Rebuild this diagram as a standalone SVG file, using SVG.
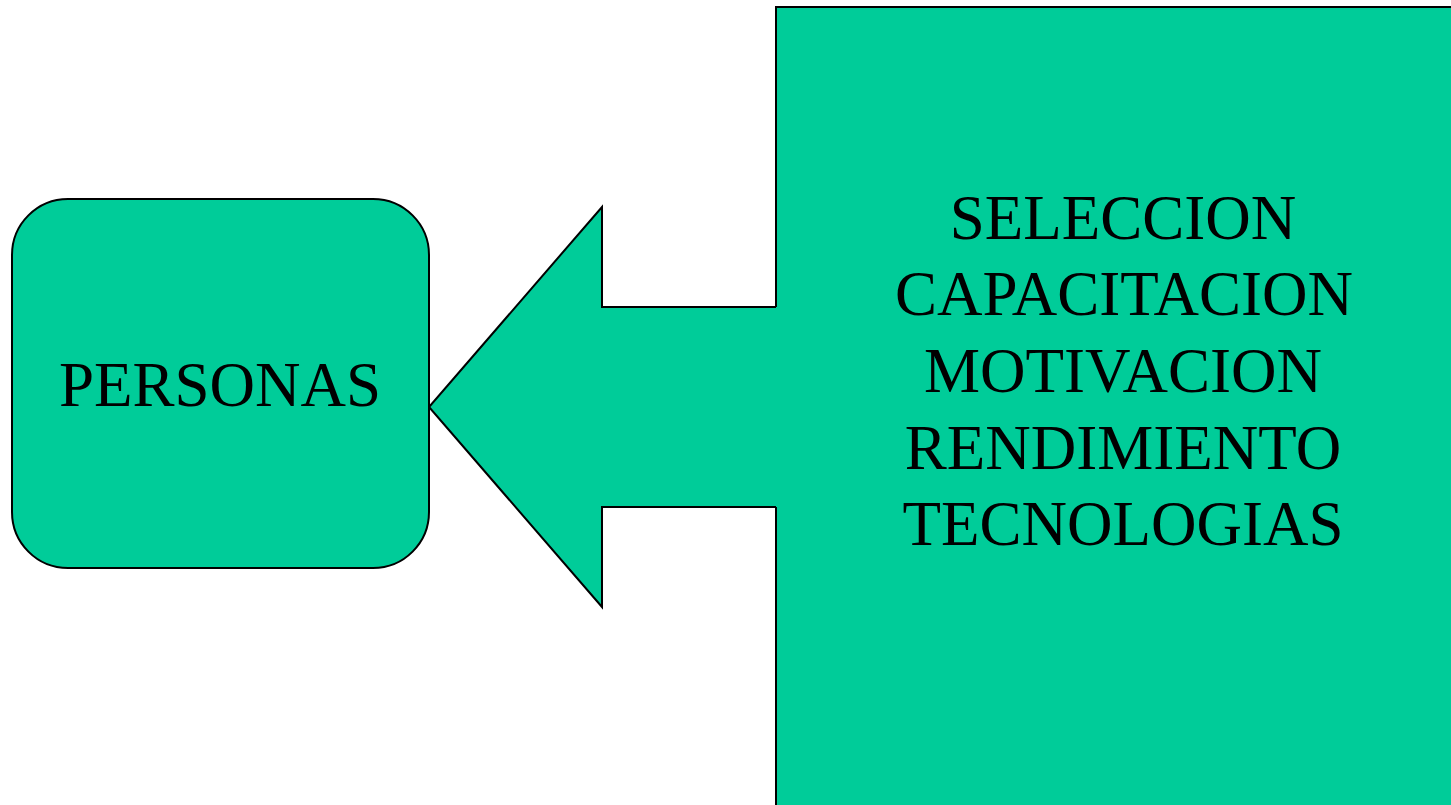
<svg xmlns="http://www.w3.org/2000/svg" width="1451" height="805" viewBox="0 0 1451 805">
  <style>
    .shape { fill: #00CC99; stroke: none; }
    .edge { fill: none; stroke: #000000; stroke-width: 2; }
    .label { font-family: "Liberation Serif", "Times New Roman", serif; font-size: 63px; fill: #000000; text-anchor: middle; }
  </style>
  <rect width="1451" height="805" fill="#ffffff"/>
  <g id="recursos">
    <rect class="shape" x="776" y="7" width="700" height="820"/>
    <path class="edge" d="M776,307 L776,7 L1460,7 M776,507 L776,820"/>
    <text class="label" x="1123" y="239">SELECCION</text>
    <text class="label" x="1124" y="315">CAPACITACION</text>
    <text class="label" x="1123" y="392">MOTIVACION</text>
    <text class="label" x="1123" y="469">RENDIMIENTO</text>
    <text class="label" x="1123" y="545">TECNOLOGIAS</text>
  </g>
  <g id="connectors">
    <polygon class="shape" points="777,307 602,307 602,207 429,407 602,607 602,507 777,507"/>
    <path class="edge" stroke-linejoin="miter" d="M776,307 L602,307 L602,207 L429,407 L602,607 L602,507 L776,507"/>
  </g>
  <g id="personas">
    <rect x="12" y="199" width="417" height="369" rx="56" ry="56" fill="#00CC99" stroke="#000000" stroke-width="2"/>
    <text class="label" x="220" y="406">PERSONAS</text>
  </g>
</svg>
